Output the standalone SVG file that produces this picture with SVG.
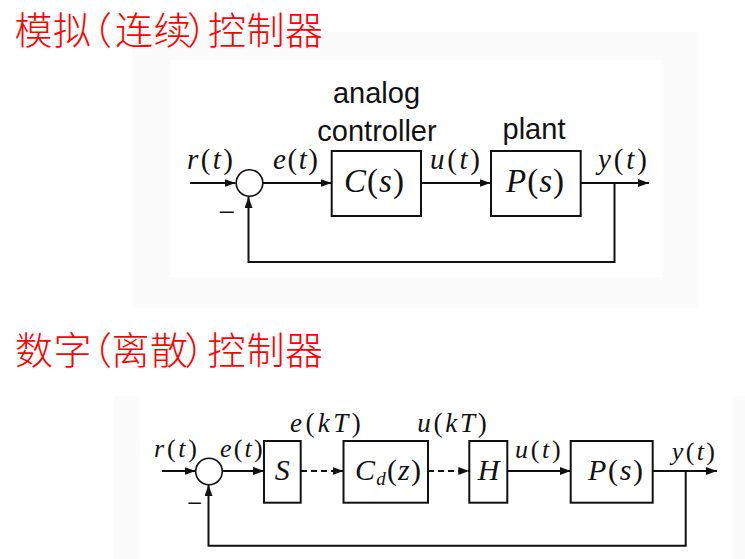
<svg xmlns="http://www.w3.org/2000/svg" width="745" height="559" viewBox="0 0 745 559">
<style>
.title{font-family:"Noto Sans CJK SC","Noto Sans",sans-serif;font-size:38px;font-weight:300;fill:#ff0000}
.sans{font-family:"Liberation Sans",Arial,sans-serif;font-size:29px;fill:#111;text-anchor:middle}
.m{font-family:"Liberation Serif","Times New Roman",serif;fill:#111}
.i{font-style:italic}
.box{fill:#fff;stroke:#111;stroke-width:2}
.sum{fill:#fff;stroke:#111;stroke-width:1.6}
.ln{fill:none;stroke:#111;stroke-width:2}
.dash{fill:none;stroke:#111;stroke-width:2;stroke-dasharray:6 4}
.bg{fill:#fbfbfb}
</style>
<defs>
<marker id="ah" markerUnits="userSpaceOnUse" markerWidth="11" markerHeight="8" refX="11" refY="4" orient="auto">
<path d="M0,0 L11,4 L0,8 z" fill="#111"/>
</marker>
</defs>
<rect width="745" height="559" fill="#fff"/>
<!-- backgrounds -->
<rect class="bg" x="132" y="32" width="566" height="276"/>
<rect x="170" y="60" width="493" height="217" fill="#fff"/>
<rect class="bg" x="114" y="396" width="631" height="163"/>
<rect x="140" y="396" width="592" height="163" fill="#fff"/>

<!-- titles -->
<text id="title1" class="title" x="14.5 53 74 115 153.5 187 208 246.5 285" y="43.5">模拟（连续）控制器</text>
<text id="title2" class="title" x="15 53.5 74 111.5 150 184.5 207.5 246.5 285" y="364">数字（离散）控制器</text>

<!-- connectors -->
<g id="connectors">
<line class="ln" x1="190" y1="183" x2="235.5" y2="183" marker-end="url(#ah)"/>
<line class="ln" x1="263" y1="183" x2="331.5" y2="183" marker-end="url(#ah)"/>
<line class="ln" x1="421" y1="183" x2="490.5" y2="183" marker-end="url(#ah)"/>
<line class="ln" x1="581" y1="183" x2="649" y2="183" marker-end="url(#ah)"/>
<polyline class="ln" points="614.5,183 614.5,262 248.5,262 248.5,197" marker-end="url(#ah)"/>

<line class="ln" x1="162" y1="471" x2="195.5" y2="471" marker-end="url(#ah)"/>
<line class="ln" x1="222.5" y1="471" x2="264" y2="471" marker-end="url(#ah)"/>
<line class="dash" x1="301" y1="471" x2="343.5" y2="471" marker-end="url(#ah)"/>
<line class="dash" x1="428" y1="471" x2="469.3" y2="471" marker-end="url(#ah)"/>
<line class="ln" x1="507.5" y1="471" x2="570.7" y2="471" marker-end="url(#ah)"/>
<line class="ln" x1="652.7" y1="471" x2="717" y2="471" marker-end="url(#ah)"/>
<polyline class="ln" points="685.7,471 685.7,545.7 208.5,545.7 208.5,485" marker-end="url(#ah)"/>
</g>

<!-- analog diagram nodes -->
<g id="sum1">
<circle class="sum" cx="249.5" cy="183" r="13.3"/>
<text class="m" x="227" y="222" font-size="30" text-anchor="middle">−</text>
</g>
<g id="C">
<rect class="box" x="331.7" y="151" width="89.3" height="65"/>
<text class="m" x="344" y="192" font-size="33" textLength="60"><tspan class="i">C</tspan>(<tspan class="i">s</tspan>)</text>
</g>
<g id="P">
<rect class="box" x="491" y="151" width="89.7" height="65"/>
<text class="m" x="506" y="192" font-size="33" textLength="58"><tspan class="i">P</tspan>(<tspan class="i">s</tspan>)</text>
</g>
<g id="labels1">
<text class="sans" x="376.5" y="103">analog</text>
<text class="sans" x="377" y="140.5">controller</text>
<text class="sans" x="534" y="139">plant</text>
<text class="m" x="187" y="169" font-size="29" textLength="46"><tspan class="i">r</tspan>(<tspan class="i">t</tspan>)</text>
<text class="m" x="273" y="169" font-size="29" textLength="45"><tspan class="i">e</tspan>(<tspan class="i">t</tspan>)</text>
<text class="m" x="430" y="169" font-size="29" textLength="50"><tspan class="i">u</tspan>(<tspan class="i">t</tspan>)</text>
<text class="m" x="598" y="169" font-size="29" textLength="49"><tspan class="i">y</tspan>(<tspan class="i">t</tspan>)</text>
</g>

<!-- digital diagram nodes -->
<g id="sum2">
<circle class="sum" cx="209" cy="471.5" r="13.3"/>
<text class="m" x="194.5" y="512" font-size="27" text-anchor="middle">−</text>
</g>
<g id="S">
<rect class="box" x="264" y="441" width="36.7" height="61.7"/>
<text class="m i" x="282.3" y="480" font-size="30" text-anchor="middle">S</text>
</g>
<g id="Cd">
<rect class="box" x="343.5" y="441" width="84.5" height="61.7"/>
<text class="m" x="355" y="480" font-size="30" textLength="66"><tspan class="i">C</tspan><tspan class="i" font-size="19" dy="5">d</tspan><tspan dy="-5">(</tspan><tspan class="i">z</tspan>)</text>
</g>
<g id="H">
<rect class="box" x="469.3" y="441" width="38" height="61.7"/>
<text class="m i" x="488.5" y="480" font-size="30" text-anchor="middle">H</text>
</g>
<g id="P2">
<rect class="box" x="570.7" y="441" width="82" height="61.7"/>
<text class="m" x="588" y="480" font-size="30" textLength="55"><tspan class="i">P</tspan>(<tspan class="i">s</tspan>)</text>
</g>
<g id="labels2">
<text class="m" x="154" y="456.5" font-size="26" textLength="43"><tspan class="i">r</tspan>(<tspan class="i">t</tspan>)</text>
<text class="m" x="220" y="456.5" font-size="26" textLength="42.7"><tspan class="i">e</tspan>(<tspan class="i">t</tspan>)</text>
<text class="m" x="290" y="431.5" font-size="27" textLength="70.7"><tspan class="i">e</tspan>(<tspan class="i">kT</tspan>)</text>
<text class="m" x="417.3" y="431.5" font-size="27" textLength="69.4"><tspan class="i">u</tspan>(<tspan class="i">kT</tspan>)</text>
<text class="m" x="515" y="458" font-size="26" textLength="45.7"><tspan class="i">u</tspan>(<tspan class="i">t</tspan>)</text>
<text class="m" x="671.7" y="460" font-size="26" textLength="43.3"><tspan class="i">y</tspan>(<tspan class="i">t</tspan>)</text>
</g>
</svg>
